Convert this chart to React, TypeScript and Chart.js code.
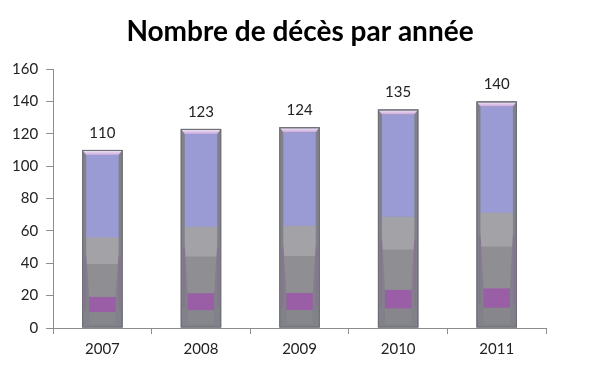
import React, { useEffect, useRef } from "react";
import { Chart, registerables } from "chart.js";

Chart.register(...registerables);

const years = ["2007", "2008", "2009", "2010", "2011"];
const deaths = [110, 123, 124, 135, 140];
const titleText = "Nombre de décès par année";

// fraction of bar height where each inner band ends (bottom to top)
const bandStops = [0.09, 0.175, 0.36, 0.51, 1];
const bandColors = ["#86868c", "#9a5ea6", "#8e8e93", "#a3a3a7", "#9a9ad4"];

const pageTitle = {
  id: "pageTitle",
  afterDraw(chart: any) {
    const ctx = chart.ctx;
    ctx.save();
    ctx.fillStyle = "#000";
    ctx.font = "bold 28px Lato, 'Open Sans', sans-serif";
    ctx.textAlign = "center";
    ctx.textBaseline = "middle";
    ctx.fillText(titleText, chart.width / 2, 32);
    ctx.restore();
  },
};

const barDecor = {
  id: "barDecor",
  afterDatasetsDraw(chart: any) {
    const ctx = chart.ctx;
    const meta = chart.getDatasetMeta(0);
    meta.data.forEach((bar: any, idx: number) => {
      const { x, y, base, width } = bar.getProps(["x", "y", "base", "width"], true);
      const left = x - width / 2;
      const right = x + width / 2;
      const h = base - y;
      ctx.save();
      ctx.fillStyle = "#818189";
      ctx.fillRect(left, y, width, h);
      const insetTop = 4;
      const insetBot = 7;
      const innerTop = y + 5;
      const innerBot = base - 3;
      const yNarrowStart = base - h * 0.42;
      const yNarrowEnd = base - h * 0.17;
      ctx.beginPath();
      ctx.moveTo(left + insetTop, innerTop);
      ctx.lineTo(right - insetTop, innerTop);
      ctx.lineTo(right - insetTop, yNarrowStart);
      ctx.lineTo(right - insetBot, yNarrowEnd);
      ctx.lineTo(right - insetBot, innerBot);
      ctx.lineTo(left + insetBot, innerBot);
      ctx.lineTo(left + insetBot, yNarrowEnd);
      ctx.lineTo(left + insetTop, yNarrowStart);
      ctx.closePath();
      ctx.save();
      ctx.clip();
      let prev = 0;
      bandStops.forEach((s, i) => {
        const yTop = base - h * s;
        const yBot = base - h * prev;
        ctx.fillStyle = bandColors[i];
        ctx.fillRect(left, yTop, width, yBot - yTop + 0.5);
        prev = s;
      });
      ctx.restore();
      ctx.fillStyle = "rgba(150,90,160,0.35)";
      ctx.fillRect(left + 2, base - h * 0.4, 2, h * 0.3);
      ctx.fillRect(right - 4, base - h * 0.4, 2, h * 0.3);
      const g = ctx.createLinearGradient(0, y, 0, y + 5);
      g.addColorStop(0, "#f4eefa");
      g.addColorStop(1, "#c9a8dc");
      ctx.fillStyle = g;
      ctx.beginPath();
      ctx.moveTo(left + 1, y + 1);
      ctx.lineTo(right - 1, y + 1);
      ctx.lineTo(right - insetTop, y + 5);
      ctx.lineTo(left + insetTop, y + 5);
      ctx.closePath();
      ctx.fill();
      ctx.strokeStyle = "#6c6c74";
      ctx.lineWidth = 1;
      ctx.strokeRect(left + 0.5, y + 0.5, width - 1, h - 1);
      ctx.restore();

      ctx.save();
      ctx.fillStyle = "#222";
      ctx.font = "15px Lato, 'Open Sans', sans-serif";
      ctx.textAlign = "center";
      ctx.textBaseline = "middle";
      ctx.fillText(String(deaths[idx]), x, y - 17);
      ctx.restore();
    });
  },
};

export default function App() {
  const ref = useRef<HTMLCanvasElement>(null);
  useEffect(() => {
    if (!ref.current) return;
    const chart = new Chart(ref.current, {
      type: "bar",
      data: {
        labels: years,
        datasets: [
          {
            data: deaths,
            backgroundColor: "#818189",
            borderWidth: 0,
            barPercentage: 0.41,
            categoryPercentage: 1,
          },
        ],
      },
      options: {
        animation: false,
        responsive: true,
        maintainAspectRatio: false,
        layout: { padding: { left: 4, right: 54, top: 69, bottom: 5 } },
        plugins: {
          legend: { display: false },
          tooltip: { enabled: false },
          title: { display: false },
        },
        scales: {
          x: {
            offset: true,
            grid: {
              display: true,
              offset: true,
              drawOnChartArea: false,
              drawTicks: true,
              tickLength: 6,
              color: "#8c8c8c",
            },
            border: { display: true, color: "#8c8c8c" },
            ticks: {
              color: "#222",
              font: { family: "Lato, 'Open Sans', sans-serif", size: 15 },
              padding: 6,
            },
          },
          y: {
            min: 0,
            max: 160,
            ticks: {
              stepSize: 20,
              color: "#222",
              font: { family: "Lato, 'Open Sans', sans-serif", size: 15 },
              padding: 8,
            },
            grid: {
              display: true,
              drawOnChartArea: false,
              drawTicks: true,
              tickLength: 7,
              color: "#8c8c8c",
            },
            border: { display: true, color: "#8c8c8c" },
          },
        },
      },
      plugins: [barDecor, pageTitle],
    });
    return () => chart.destroy();
  }, []);
  return (
    <div style={{ position: "fixed", left: 0, top: 0, width: 600, height: 369, background: "#fff" }}>
      <canvas ref={ref} />
    </div>
  );
}
